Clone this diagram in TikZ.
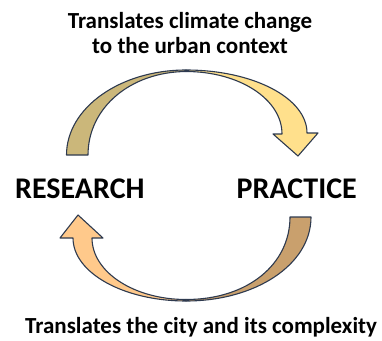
\documentclass[tikz,border=0pt]{standalone}
\usepackage{fontspec}
\setmainfont{Carlito}
\definecolor{rimblue}{HTML}{2E3A4F}
\definecolor{khaki}{HTML}{CBB77A}
\definecolor{butter}{HTML}{FFE08C}
\definecolor{peach}{HTML}{FFC98B}
\definecolor{tanbrown}{HTML}{C9A06D}
\begin{document}
\begin{tikzpicture}[x=1pt,y=-1pt,line cap=round,line join=round,
  blockarrow/.style={draw=rimblue,line width=1.1pt},
  lbl/.style={inner sep=0pt,font=\bfseries\fontsize{23}{27}\selectfont},
  pole/.style={inner sep=0pt,font=\bfseries\fontsize{30}{36}\selectfont}]
  \useasboundingbox (0,0) rectangle (382,340);
  \draw[blockarrow,fill=khaki] (66.5,155) .. controls (66.5,108) and (120,70) .. (186,70)
    -- (186,71.5) .. controls (130,72) and (88,108) .. (88,155) -- cycle;
  \draw[blockarrow,fill=butter] (186,70) .. controls (253,70) and (307,98) .. (307,133)
    -- (318,133) -- (298,156) -- (273,134) -- (282,134)
    .. controls (282,99) and (239,71.5) .. (186,71.5) -- cycle;
  \draw[blockarrow,fill=tanbrown] (311,217) .. controls (311,265) and (255,301) .. (186,301)
    -- (186,299.5) .. controls (248,299.5) and (290,264) .. (290,217) -- cycle;
  \draw[blockarrow,fill=peach] (186,301) .. controls (124,301) and (73,273) .. (73,238)
    -- (60,238) -- (78,215) -- (103,238) -- (92,238)
    .. controls (92,272) and (134,299.5) .. (186,299.5) -- cycle;
  \node[lbl,anchor=base] (topa) at (190,28) {Translates climate change};
  \node[lbl,anchor=base] (topb) at (190,53) {to the urban context};
  \node[pole,anchor=base west] (research) at (15,198) {RESEARCH};
  \node[pole,anchor=base east] (practice) at (357,198) {PRACTICE};
  \node[lbl,anchor=base west] (bottom) at (25,333) {Translates the city and its complexity};
\end{tikzpicture}
\end{document}
